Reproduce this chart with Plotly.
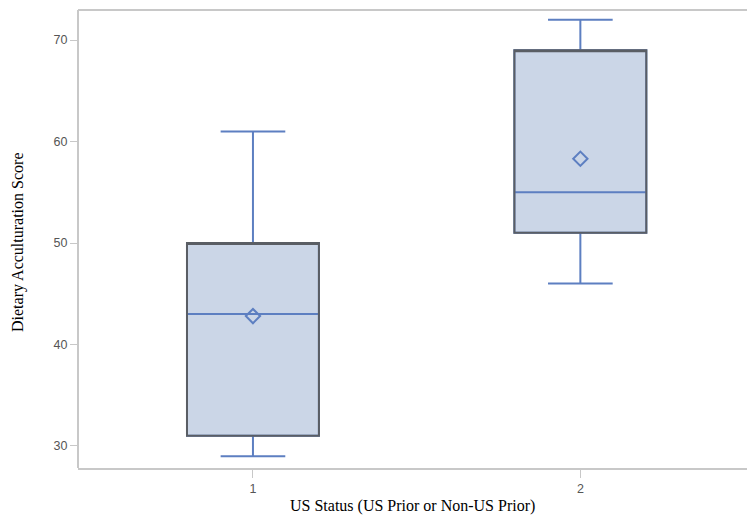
import plotly.graph_objects as go

categories = [1, 2]
q1 = [31, 51]
median = [43, 55]
q3 = [50, 69]
lower_whisker = [29, 46]
upper_whisker = [61, 72]
means = [42.8, 58.3]

FILL = "#cbd6e7"
BLUE = "#5d7fc1"
GRAY = "#5a5e64"
FRAME = "#c8c8c8"

fig = go.Figure()

fig.add_trace(go.Box(
    x=categories, q1=q1, median=median, q3=q3,
    lowerfence=lower_whisker, upperfence=upper_whisker,
    fillcolor=FILL, line=dict(color=BLUE, width=2),
    width=0.403, whiskerwidth=0.49, boxpoints=False, showlegend=False,
))
fig.add_trace(go.Box(
    x=categories, q1=q1, median=q3, q3=q3,
    lowerfence=q1, upperfence=q3,
    fillcolor="rgba(0,0,0,0)", line=dict(color=GRAY, width=2),
    width=0.403, whiskerwidth=0, boxpoints=False, showlegend=False,
))
fig.add_trace(go.Scatter(
    x=categories, y=means, mode="markers",
    marker=dict(symbol="diamond-open", size=11, color=BLUE, line=dict(width=2, color=BLUE)),
    showlegend=False,
))

fig.add_shape(type="line", xref="paper", yref="paper", x0=0, x1=1, y0=1, y1=1,
              line=dict(color=FRAME, width=2))
fig.add_shape(type="line", xref="paper", yref="paper", x0=0, x1=0, y0=0, y1=1,
              line=dict(color=FRAME, width=2))
# hide the stray right-edge border
fig.add_shape(type="rect", xref="paper", yref="paper", x0=0.996, x1=1.01, y0=0.004, y1=0.996,
              fillcolor="white", line=dict(width=0), layer="above")

tickfont = dict(family="Liberation Sans, Arial, sans-serif", size=12.5, color="#555")
titlefont = dict(family="Liberation Serif, Times New Roman, serif", size=16, color="black")

fig.add_annotation(text="US Status (US Prior or Non-US Prior)", xref="paper", yref="paper",
                   x=0.5, y=-0.084, xanchor="center", yanchor="middle",
                   showarrow=False, font=titlefont)
fig.add_annotation(text="Dietary Acculturation Score", xref="paper", yref="paper",
                   x=-0.0897, y=0.4934, xanchor="center", yanchor="middle", textangle=-90,
                   showarrow=False, font=titlefont)

fig.update_layout(
    width=747, height=516,
    margin=dict(l=78, r=0, t=10, b=48, autoexpand=False),
    plot_bgcolor="white", paper_bgcolor="white",
    boxmode="overlay",
    font=tickfont,
)
fig.update_xaxes(
    range=[0.4656, 2.509], tickvals=categories, ticktext=["1", "2"],
    showgrid=False, zeroline=False,
    showline=True, linecolor=FRAME, linewidth=2,
    ticks="outside", ticklen=8, tickcolor=FRAME,
    tickfont=tickfont,
)
fig.update_yaxes(
    range=[27.83, 72.96], tickvals=[30, 40, 50, 60, 70],
    showgrid=False, zeroline=False, showline=False,
    ticks="outside", ticklen=7, tickcolor=FRAME,
    tickfont=tickfont,
)

fig.write_html("out.html")
